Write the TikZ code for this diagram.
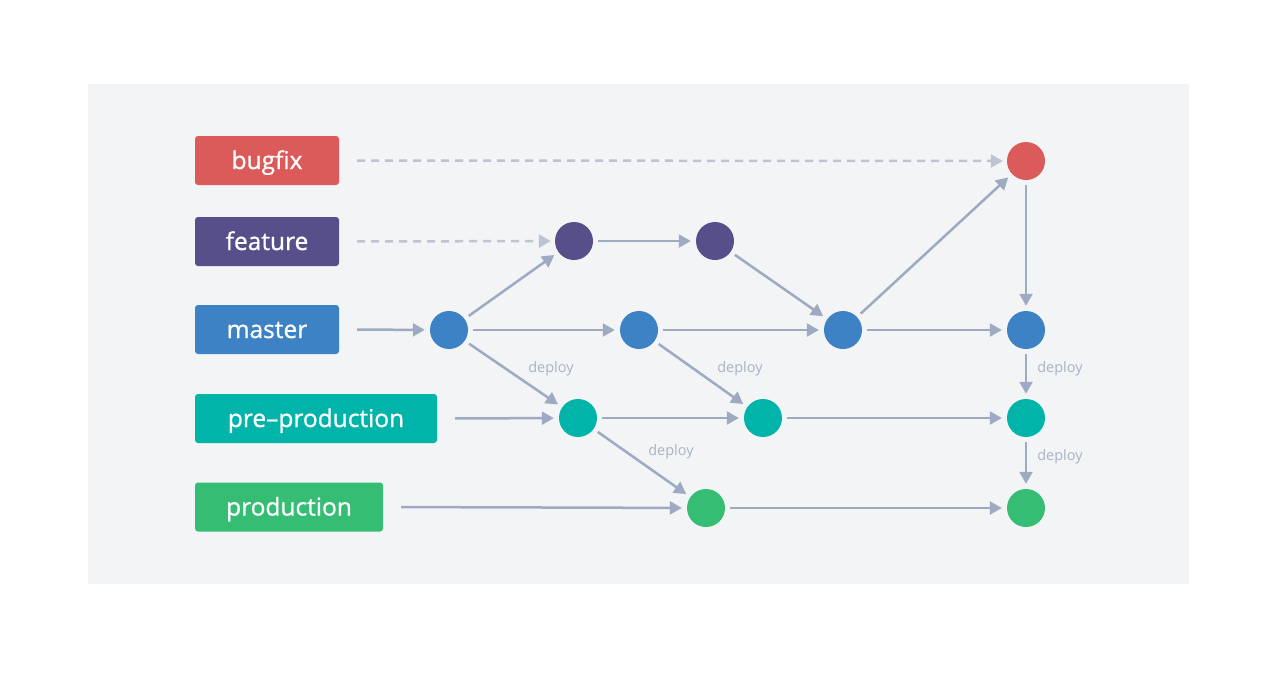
\documentclass[tikz,border=0pt]{standalone}
\usepackage{fontspec}
\setmainfont{Open Sans}
\newfontfamily\lblfont{Open Sans}[FakeBold=0.9]
\usetikzlibrary{arrows.meta}
\definecolor{bgpanel}{HTML}{F3F4F6}
\definecolor{cbug}{HTML}{DB5B5B}
\definecolor{cfeat}{HTML}{574F8A}
\definecolor{cmaster}{HTML}{3D82C4}
\definecolor{cpre}{HTML}{00B4AA}
\definecolor{cprod}{HTML}{35BD74}
\definecolor{carrow}{HTML}{9DAAC2}
\definecolor{cdash}{HTML}{BCC4D2}
\definecolor{cdeploy}{HTML}{A9B4C8}
\tikzset{
  lbl/.style={rectangle, rounded corners=3pt, fill=#1, text=white, minimum height=49pt, inner sep=0pt, text height=17pt, text depth=0pt, font=\lblfont\fontsize{24.5}{28}\selectfont},
  dot/.style={circle, fill=#1, minimum size=38pt, inner sep=0pt},
  arr/.style={draw=carrow, line width=2.5pt, -{Triangle[length=12pt,width=13pt]}, shorten <=5pt, shorten >=5pt},
  darr/.style={draw=cdash, line width=2.5pt, dash pattern=on 8pt off 6pt, -{Triangle[length=12pt,width=13pt]}, shorten <=18pt, shorten >=4pt},
  larr/.style={arr, shorten <=18pt},
  dep/.style={text=cdeploy, font=\fontsize{14.5}{16}\selectfont, inner sep=0pt}
}
\begin{document}
\begin{tikzpicture}[x=1pt,y=-1pt]
\useasboundingbox (0,0) rectangle (1280,683);
\fill[white] (0,0) rectangle (1280,683);
\fill[bgpanel] (88,84) rectangle (1189,584);

% labels
\node[lbl=cbug, minimum width=144pt] (lb) at (267,160.5) {bugfix};
\node[lbl=cfeat, minimum width=144pt] (lf) at (267,241.5) {feature};
\node[lbl=cmaster, minimum width=144pt] (lm) at (267,329.5) {master};
\node[lbl=cpre, minimum width=242pt] (lp) at (316,418.5) {pre–production};
\node[lbl=cprod, minimum width=188pt] (ld) at (289,507) {production};

% commits
\node[dot=cbug] (b1) at (1026,161) {};
\node[dot=cfeat] (f1) at (574,241) {};
\node[dot=cfeat] (f2) at (715,241) {};
\node[dot=cmaster] (m1) at (449,330) {};
\node[dot=cmaster] (m2) at (639,330) {};
\node[dot=cmaster] (m3) at (843,330) {};
\node[dot=cmaster] (m4) at (1026,330) {};
\node[dot=cpre] (p1) at (578,418) {};
\node[dot=cpre] (p2) at (763,418) {};
\node[dot=cpre] (p3) at (1026,418) {};
\node[dot=cprod] (d1) at (706,508) {};
\node[dot=cprod] (d2) at (1026,508) {};

% connectors
\draw[darr] (lb.east) -- (b1);
\draw[darr] (lf.east) -- (f1);
\draw[larr] (lm.east) -- (m1);
\draw[larr] (lp.east) -- (p1);
\draw[larr] (ld.east) -- (d1);

\draw[arr] (m1) -- (f1);
\draw[arr] (m1) -- (m2);
\draw[arr] (m1) -- (p1);
\draw[arr] (f1) -- (f2);
\draw[arr] (f2) -- (m3);
\draw[arr] (m2) -- (m3);
\draw[arr] (m2) -- (p2);
\draw[arr] (m3) -- (b1);
\draw[arr] (m3) -- (m4);
\draw[arr] (b1) -- (m4);
\draw[arr] (m4) -- (p3);
\draw[arr] (p3) -- (d2);
\draw[arr] (p1) -- (p2);
\draw[arr] (p2) -- (p3);
\draw[arr] (p1) -- (d1);
\draw[arr] (d1) -- (d2);

% deploy labels
\node[dep] (t1) at (551,369) {deploy};
\node[dep] (t2) at (740,369) {deploy};
\node[dep] (t3) at (671,452) {deploy};
\node[dep] (t4) at (1060,369) {deploy};
\node[dep] (t5) at (1060,457) {deploy};
\end{tikzpicture}
\end{document}
